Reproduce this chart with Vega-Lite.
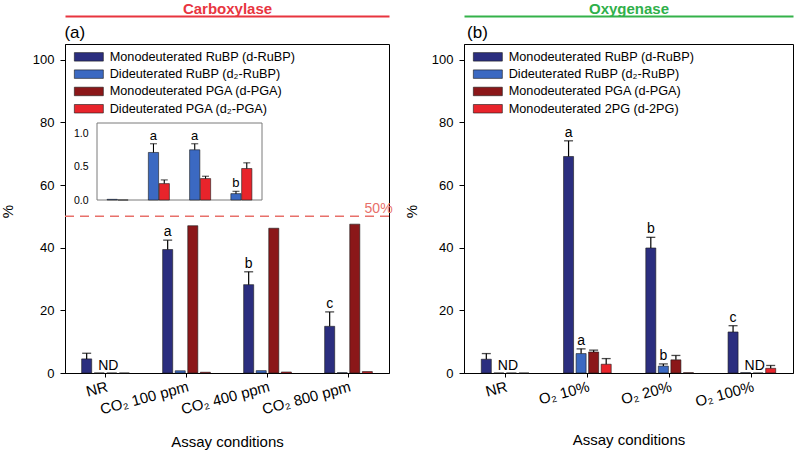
{
  "$schema": "https://vega.github.io/schema/vega-lite/v6.json",
  "padding": {"left": 0, "top": 0, "right": 0, "bottom": 0},
  "background": "white",
  "config": {
    "font": "Liberation Sans",
    "view": {"stroke": "black", "strokeWidth": 1},
    "axis": {"grid": false, "domainColor": "black", "tickColor": "black", "labelColor": "black", "titleColor": "black", "titleFontWeight": "normal", "labelFont": "Liberation Sans", "titleFont": "Liberation Sans"},
    "axisY": {"labelPadding": 6},
    "legend": {"padding": 0, "symbolType": "M-2.9,-0.85H2.9V0.85H-2.9Z", "symbolSize": 100, "symbolStrokeColor": "#1a1a1a", "symbolStrokeWidth": 0.8, "labelFontSize": 12.7, "labelOffset": 14.5, "rowPadding": 3.3, "labelLimit": 400, "labelColor": "black"},
    "bar": {"stroke": "#1a1a1a", "strokeWidth": 0.6},
    "text": {"font": "Liberation Sans"}
  },
  "datasets": {
    "carb": [
      {"cond": "NR", "series": "Monodeuterated RuBP (d-RuBP)", "val": 4.5, "hi": 6.3},
      {"cond": "NR", "series": "Dideuterated RuBP (d₂-RuBP)", "val": 0.01, "note": "ND"},
      {"cond": "NR", "series": "Monodeuterated PGA (d-PGA)", "val": 0},
      {"cond": "NR", "series": "Dideuterated PGA (d₂-PGA)", "val": 0},
      {"cond": "CO₂ 100 ppm", "series": "Monodeuterated RuBP (d-RuBP)", "val": 39.4, "hi": 42.4, "lbl": "a"},
      {"cond": "CO₂ 100 ppm", "series": "Dideuterated RuBP (d₂-RuBP)", "val": 0.71, "ihi": 0.84, "ilbl": "a"},
      {"cond": "CO₂ 100 ppm", "series": "Monodeuterated PGA (d-PGA)", "val": 47.0},
      {"cond": "CO₂ 100 ppm", "series": "Dideuterated PGA (d₂-PGA)", "val": 0.245, "ihi": 0.3},
      {"cond": "CO₂ 400 ppm", "series": "Monodeuterated RuBP (d-RuBP)", "val": 28.2, "hi": 32.3, "lbl": "b"},
      {"cond": "CO₂ 400 ppm", "series": "Dideuterated RuBP (d₂-RuBP)", "val": 0.75, "ihi": 0.84, "ilbl": "a"},
      {"cond": "CO₂ 400 ppm", "series": "Monodeuterated PGA (d-PGA)", "val": 46.2},
      {"cond": "CO₂ 400 ppm", "series": "Dideuterated PGA (d₂-PGA)", "val": 0.32, "ihi": 0.355},
      {"cond": "CO₂ 800 ppm", "series": "Monodeuterated RuBP (d-RuBP)", "val": 14.9, "hi": 19.5, "lbl": "c"},
      {"cond": "CO₂ 800 ppm", "series": "Dideuterated RuBP (d₂-RuBP)", "val": 0.095, "ihi": 0.13, "ilbl": "b"},
      {"cond": "CO₂ 800 ppm", "series": "Monodeuterated PGA (d-PGA)", "val": 47.5},
      {"cond": "CO₂ 800 ppm", "series": "Dideuterated PGA (d₂-PGA)", "val": 0.47, "ihi": 0.555}
    ],
    "oxy": [
      {"cond": "NR", "series": "Monodeuterated RuBP (d-RuBP)", "val": 4.4, "hi": 6.2},
      {"cond": "NR", "series": "Dideuterated RuBP (d₂-RuBP)", "val": 0, "note": "ND"},
      {"cond": "NR", "series": "Monodeuterated PGA (d-PGA)", "val": 0},
      {"cond": "NR", "series": "Monodeuterated 2PG (d-2PG)", "val": 0},
      {"cond": "O₂ 10%", "series": "Monodeuterated RuBP (d-RuBP)", "val": 69.1, "hi": 74.1, "lbl": "a"},
      {"cond": "O₂ 10%", "series": "Dideuterated RuBP (d₂-RuBP)", "val": 6.2, "hi": 7.7, "lbl": "a"},
      {"cond": "O₂ 10%", "series": "Monodeuterated PGA (d-PGA)", "val": 6.7, "hi": 7.3},
      {"cond": "O₂ 10%", "series": "Monodeuterated 2PG (d-2PG)", "val": 2.8, "hi": 4.6},
      {"cond": "O₂ 20%", "series": "Monodeuterated RuBP (d-RuBP)", "val": 39.9, "hi": 43.3, "lbl": "b"},
      {"cond": "O₂ 20%", "series": "Dideuterated RuBP (d₂-RuBP)", "val": 2.2, "hi": 2.9, "lbl": "b"},
      {"cond": "O₂ 20%", "series": "Monodeuterated PGA (d-PGA)", "val": 4.2, "hi": 5.6},
      {"cond": "O₂ 20%", "series": "Monodeuterated 2PG (d-2PG)", "val": 0.1},
      {"cond": "O₂ 100%", "series": "Monodeuterated RuBP (d-RuBP)", "val": 13.1, "hi": 15.1, "lbl": "c"},
      {"cond": "O₂ 100%", "series": "Dideuterated RuBP (d₂-RuBP)", "val": 0.1, "note": "ND"},
      {"cond": "O₂ 100%", "series": "Monodeuterated PGA (d-PGA)", "val": 0},
      {"cond": "O₂ 100%", "series": "Monodeuterated 2PG (d-2PG)", "val": 1.5, "hi": 2.4}
    ]
  },
  "spacing": 10,
  "resolve": {"scale": {"color": "independent"}, "legend": {"color": "independent"}},
  "hconcat": [
    {
      "width": 324,
      "height": 329,
      "layer": [
        {
          "data": {"name": "carb"},
          "layer": [
            {
              "mark": {"type": "bar"},
              "encoding": {
                "x": {"field": "cond", "type": "nominal", "scale": {"domain": ["NR", "CO₂ 100 ppm", "CO₂ 400 ppm", "CO₂ 800 ppm"], "paddingInner": 0.38, "paddingOuter": 0.19}, "axis": {"orient": "bottom", "title": "Assay conditions", "labelAngle": -15, "labelFontSize": 15, "titleFontSize": 15, "titlePadding": 17, "tickSize": 4, "labelPadding": 2}},
                "xOffset": {"field": "series", "type": "nominal", "scale": {"domain": ["Monodeuterated RuBP (d-RuBP)", "Dideuterated RuBP (d₂-RuBP)", "Monodeuterated PGA (d-PGA)", "Dideuterated PGA (d₂-PGA)"], "paddingInner": 0.2, "paddingOuter": 0.1}},
                "y": {"field": "val", "type": "quantitative", "title": null, "scale": {"domain": [0, 105], "nice": false}, "axis": {"orient": "left", "values": [0, 20, 40, 60, 80, 100], "labelFontSize": 13, "tickSize": 5}},
                "color": {"field": "series", "type": "nominal", "title": null, "scale": {"domain": ["Monodeuterated RuBP (d-RuBP)", "Dideuterated RuBP (d₂-RuBP)", "Monodeuterated PGA (d-PGA)", "Dideuterated PGA (d₂-PGA)"], "range": ["#2b2e7f", "#3b69c2", "#8b1719", "#e8242b"]}, "legend": {"orient": "none", "legendX": 17.5, "legendY": 6.5}}
              }
            },
            {
              "transform": [{"filter": "datum.hi != null"}],
              "mark": {"type": "rule", "color": "black", "strokeWidth": 1.2},
              "encoding": {
                "x": {"field": "cond", "type": "nominal", "axis": null},
                "xOffset": {"field": "series", "type": "nominal"},
                "y": {"field": "val", "type": "quantitative", "title": null},
                "y2": {"field": "hi"}
              }
            },
            {
              "transform": [{"filter": "datum.hi != null"}],
              "mark": {"type": "tick", "color": "black", "size": 9, "thickness": 1.3, "orient": "horizontal"},
              "encoding": {
                "x": {"field": "cond", "type": "nominal", "axis": null},
                "xOffset": {"field": "series", "type": "nominal"},
                "y": {"field": "hi", "type": "quantitative", "title": null}
              }
            },
            {
              "transform": [{"filter": "datum.lbl != null"}],
              "mark": {"type": "text", "fontSize": 14, "baseline": "bottom", "dy": -1, "color": "black"},
              "encoding": {
                "x": {"field": "cond", "type": "nominal", "axis": null},
                "xOffset": {"field": "series", "type": "nominal"},
                "y": {"field": "hi", "type": "quantitative", "title": null},
                "text": {"field": "lbl"}
              }
            },
            {
              "transform": [{"filter": "datum.note != null"}],
              "mark": {"type": "text", "fontSize": 14, "baseline": "bottom", "align": "left", "dx": -1, "color": "black"},
              "encoding": {
                "x": {"field": "cond", "type": "nominal", "axis": null},
                "xOffset": {"field": "series", "type": "nominal"},
                "y": {"datum": 0, "type": "quantitative"},
                "text": {"field": "note"}
              }
            },
            {
              "data": {"values": [{}]},
              "mark": {"type": "rule", "color": "#e8706a", "strokeWidth": 1.5, "strokeDash": [9, 6]},
              "encoding": {"y": {"datum": 50, "type": "quantitative"}}
            },
            {
              "data": {"values": [{}]},
              "mark": {"type": "text", "text": "50%", "fontSize": 14, "align": "right", "baseline": "alphabetic", "dy": -3, "dx": 19, "color": "#e8706a"},
              "encoding": {
                "x": {"datum": "CO₂ 800 ppm", "type": "nominal", "bandPosition": 1, "axis": null},
                "y": {"datum": 50, "type": "quantitative"}
              }
            },
            {
              "data": {"values": [{}]},
              "mark": {"type": "text", "text": "%", "fontSize": 15, "angle": 270, "align": "center", "baseline": "middle", "dy": -72.5, "color": "black"},
              "encoding": {
                "x": {"datum": "NR", "type": "nominal", "bandPosition": 0, "axis": null},
                "y": {"datum": 51.5, "type": "quantitative"}
              }
            },
            {
              "data": {"values": [{}]},
              "mark": {"type": "text", "text": "(a)", "fontSize": 17, "align": "left", "baseline": "alphabetic", "dy": -6, "dx": -16, "color": "black"},
              "encoding": {
                "x": {"datum": "NR", "type": "nominal", "bandPosition": 0, "axis": {"orient": "top", "offset": 28, "labels": false, "ticks": false, "domainColor": "#e8353f", "domainWidth": 2, "title": "Carboxylase", "titleColor": "#e8353f", "titleFontWeight": "bold", "titleFontSize": 15, "titlePadding": 0}},
                "y": {"datum": 105, "type": "quantitative"}
              }
            }
          ],
          "resolve": {"axis": {"x": "independent"}}
        },
        {
          "data": {"name": "carb"},
          "transform": [{"filter": "datum.series == 'Dideuterated RuBP (d₂-RuBP)' || datum.series == 'Dideuterated PGA (d₂-PGA)'"}],
          "layer": [
            {
              "data": {"values": [{}]},
              "mark": {"type": "rect", "fill": "white", "stroke": "#7a7a7a", "strokeWidth": 1},
              "encoding": {
                "x": {"datum": 0, "type": "quantitative", "scale": {"domain": [0, 1], "range": [32, 197]}, "axis": null},
                "x2": {"datum": 1},
                "y": {"datum": 0, "type": "quantitative"},
                "y2": {"datum": 1.15}
              }
            },
            {
              "layer": [
                {
                  "mark": {"type": "bar"},
                  "encoding": {
                    "x": {"field": "cond", "type": "nominal", "scale": {"domain": ["NR", "CO₂ 100 ppm", "CO₂ 400 ppm", "CO₂ 800 ppm"], "range": [32, 197], "paddingInner": 0.49, "paddingOuter": 0.245}, "axis": null},
                    "xOffset": {"field": "series", "type": "nominal", "scale": {"domain": ["Dideuterated RuBP (d₂-RuBP)", "Dideuterated PGA (d₂-PGA)"], "paddingInner": 0.05}},
                    "y": {"field": "val", "type": "quantitative", "title": null, "scale": {"domain": [0, 1.15], "nice": false, "range": [156, 79]}, "axis": {"orient": "left", "offset": -32, "values": [0, 0.5, 1], "format": ".1f", "domain": false, "ticks": false, "labelPadding": 9, "labelFontSize": 10.5}},
                    "color": {"field": "series", "type": "nominal", "title": null, "legend": {"orient": "none", "legendX": 17.5, "legendY": 6.5}}
                  }
                },
                {
                  "transform": [{"filter": "datum.ihi != null"}],
                  "mark": {"type": "rule", "color": "black", "strokeWidth": 1.1},
                  "encoding": {
                    "x": {"field": "cond", "type": "nominal", "axis": null},
                    "xOffset": {"field": "series", "type": "nominal"},
                    "y": {"field": "val", "type": "quantitative", "title": null},
                    "y2": {"field": "ihi"}
                  }
                },
                {
                  "transform": [{"filter": "datum.ihi != null"}],
                  "mark": {"type": "tick", "color": "black", "size": 7, "thickness": 1.1, "orient": "horizontal"},
                  "encoding": {
                    "x": {"field": "cond", "type": "nominal", "axis": null},
                    "xOffset": {"field": "series", "type": "nominal"},
                    "y": {"field": "ihi", "type": "quantitative", "title": null}
                  }
                },
                {
                  "transform": [{"filter": "datum.ilbl != null"}],
                  "mark": {"type": "text", "fontSize": 13, "baseline": "bottom", "dy": -1, "color": "black"},
                  "encoding": {
                    "x": {"field": "cond", "type": "nominal", "axis": null},
                    "xOffset": {"field": "series", "type": "nominal"},
                    "y": {"field": "ihi", "type": "quantitative", "title": null},
                    "text": {"field": "ilbl"}
                  }
                }
              ]
            }
          ],
          "resolve": {"scale": {"x": "independent"}}
        }
      ],
      "resolve": {"scale": {"x": "independent", "y": "independent", "xOffset": "independent"}, "axis": {"x": "independent", "y": "independent"}}
    },
    {
      "width": 329,
      "height": 329,
      "data": {"name": "oxy"},
      "layer": [
        {
          "mark": {"type": "bar"},
          "encoding": {
            "x": {"field": "cond", "type": "nominal", "scale": {"domain": ["NR", "O₂ 10%", "O₂ 20%", "O₂ 100%"], "paddingInner": 0.39, "paddingOuter": 0.195}, "axis": {"orient": "bottom", "title": "Assay conditions", "labelAngle": -15, "labelFontSize": 15, "titleFontSize": 15, "titlePadding": 23, "tickSize": 4, "labelPadding": 2}},
            "xOffset": {"field": "series", "type": "nominal", "scale": {"domain": ["Monodeuterated RuBP (d-RuBP)", "Dideuterated RuBP (d₂-RuBP)", "Monodeuterated PGA (d-PGA)", "Monodeuterated 2PG (d-2PG)"], "paddingInner": 0.2, "paddingOuter": 0.1}},
            "y": {"field": "val", "type": "quantitative", "title": null, "scale": {"domain": [0, 105], "nice": false}, "axis": {"orient": "left", "values": [0, 20, 40, 60, 80, 100], "labelFontSize": 13, "tickSize": 5}},
            "color": {"field": "series", "type": "nominal", "title": null, "scale": {"domain": ["Monodeuterated RuBP (d-RuBP)", "Dideuterated RuBP (d₂-RuBP)", "Monodeuterated PGA (d-PGA)", "Monodeuterated 2PG (d-2PG)"], "range": ["#2b2e7f", "#3b69c2", "#8b1719", "#e8242b"]}, "legend": {"orient": "none", "legendX": 17.5, "legendY": 6.5}}
          }
        },
        {
          "transform": [{"filter": "datum.hi != null"}],
          "mark": {"type": "rule", "color": "black", "strokeWidth": 1.2},
          "encoding": {
            "x": {"field": "cond", "type": "nominal", "axis": null},
            "xOffset": {"field": "series", "type": "nominal"},
            "y": {"field": "val", "type": "quantitative", "title": null},
            "y2": {"field": "hi"}
          }
        },
        {
          "transform": [{"filter": "datum.hi != null"}],
          "mark": {"type": "tick", "color": "black", "size": 9, "thickness": 1.3, "orient": "horizontal"},
          "encoding": {
            "x": {"field": "cond", "type": "nominal", "axis": null},
            "xOffset": {"field": "series", "type": "nominal"},
            "y": {"field": "hi", "type": "quantitative", "title": null}
          }
        },
        {
          "transform": [{"filter": "datum.lbl != null"}],
          "mark": {"type": "text", "fontSize": 14, "baseline": "bottom", "dy": -1, "color": "black"},
          "encoding": {
            "x": {"field": "cond", "type": "nominal", "axis": null},
            "xOffset": {"field": "series", "type": "nominal"},
            "y": {"field": "hi", "type": "quantitative", "title": null},
            "text": {"field": "lbl"}
          }
        },
        {
          "transform": [{"filter": "datum.note != null"}],
          "mark": {"type": "text", "fontSize": 14, "baseline": "bottom", "align": "left", "dx": -1, "color": "black"},
          "encoding": {
            "x": {"field": "cond", "type": "nominal", "axis": null},
            "xOffset": {"field": "series", "type": "nominal"},
            "y": {"datum": 0, "type": "quantitative"},
            "text": {"field": "note"}
          }
        },
        {
          "data": {"values": [{}]},
          "mark": {"type": "text", "text": "%", "fontSize": 15, "angle": 270, "align": "center", "baseline": "middle", "dy": -68, "color": "black"},
          "encoding": {
            "x": {"datum": "NR", "type": "nominal", "bandPosition": 0, "axis": null},
            "y": {"datum": 51.5, "type": "quantitative"}
          }
        },
        {
          "data": {"values": [{}]},
          "mark": {"type": "text", "text": "(b)", "fontSize": 17, "align": "left", "baseline": "alphabetic", "dy": -6, "dx": -13, "color": "black"},
          "encoding": {
            "x": {"datum": "NR", "type": "nominal", "bandPosition": 0, "axis": {"orient": "top", "offset": 28, "labels": false, "ticks": false, "domainColor": "#34b24a", "domainWidth": 2, "title": "Oxygenase", "titleColor": "#2fb04a", "titleFontWeight": "bold", "titleFontSize": 15, "titlePadding": 0}},
            "y": {"datum": 105, "type": "quantitative"}
          }
        }
      ],
      "resolve": {"axis": {"x": "independent"}}
    }
  ]
}
